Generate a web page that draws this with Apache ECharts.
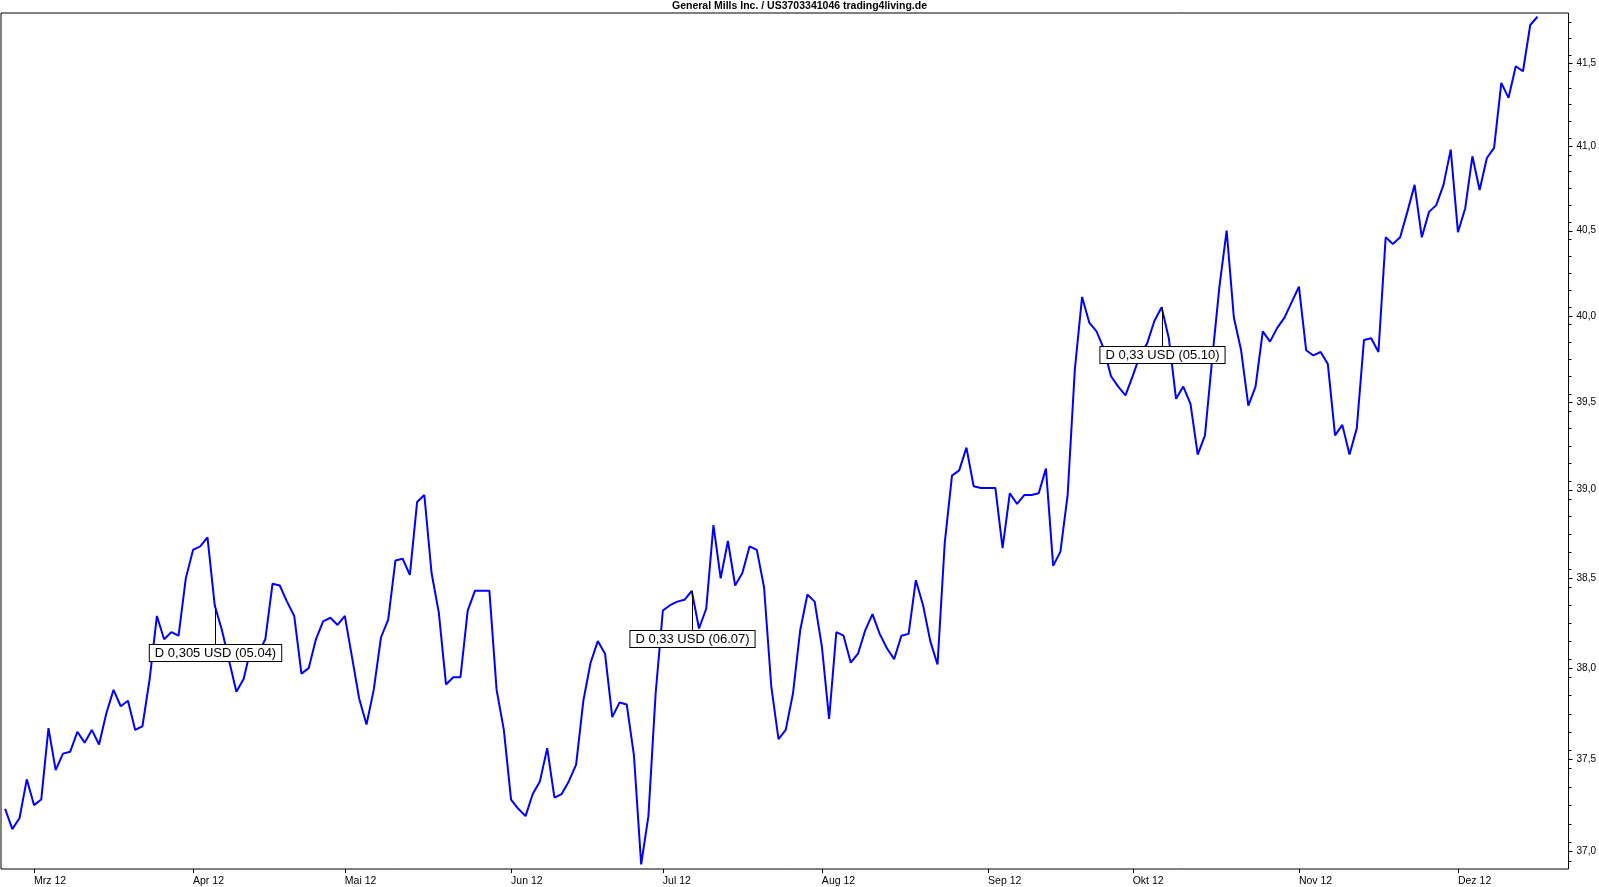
<!DOCTYPE html>
<html>
<head>
<meta charset="utf-8">
<script src="https://cdn.jsdelivr.net/npm/echarts@6/dist/echarts.min.js"></script>
<style>
html,body{margin:0;padding:0;background:#fff;}
#chart{width:1599px;height:887px;}
</style>
</head>
<body>
<div id="chart"></div>
<script>
// ---- data ----
const titleText = 'General Mills Inc. / US3703341046 trading4living.de';
const firstDate = '2012-02-24'; // first trading day shown (weekday axis)
const prices = [
  37.23,37.12,37.18,37.39,37.25,37.28,37.67,37.44,37.53,37.54,
  37.65,37.59,37.66,37.58,37.75,37.88,37.79,37.82,37.66,37.68,
  37.94,38.29,38.16,38.20,38.18,38.50,38.66,38.68,38.73,38.35,
  38.21,38.04,37.87,37.94,38.11,38.08,38.16,38.47,38.46,38.37,
  38.29,37.97,38.00,38.16,38.26,38.28,38.24,38.29,38.06,37.83,
  37.69,37.88,38.17,38.27,38.60,38.61,38.52,38.93,38.97,38.53,
  38.31,37.91,37.95,37.95,38.32,38.43,38.43,38.43,37.88,37.66,
  37.28,37.23,37.19,37.31,37.38,37.56,37.29,37.31,37.38,37.47,
  37.82,38.03,38.15,38.08,37.73,37.81,37.80,37.52,36.93,37.19,
  37.86,38.32,38.35,38.37,38.38,38.43,38.22,38.33,38.80,38.50,
  38.71,38.46,38.53,38.68,38.66,38.45,37.90,37.61,37.66,37.86,
  38.21,38.41,38.37,38.12,37.72,38.20,38.18,38.03,38.08,38.21,
  38.30,38.19,38.11,38.05,38.18,38.19,38.49,38.35,38.15,38.02,
  38.70,39.08,39.11,39.24,39.02,39.01,39.01,39.01,38.67,38.98,
  38.92,38.97,38.97,38.98,39.12,38.57,38.65,38.97,39.69,40.11,
  39.96,39.91,39.81,39.65,39.59,39.54,39.65,39.77,39.84,39.97,
  40.05,39.87,39.52,39.59,39.49,39.20,39.31,39.75,40.17,40.50,
  39.99,39.80,39.48,39.59,39.91,39.85,39.93,39.99,40.08,40.17,
  39.80,39.77,39.79,39.72,39.31,39.37,39.20,39.35,39.86,39.87,
  39.79,40.46,40.42,40.46,40.61,40.77,40.46,40.61,40.65,40.77,
  40.98,40.49,40.63,40.94,40.74,40.93,40.99,41.38,41.29,41.48,
  41.45,41.73,41.78
];
const monthLabels = ['Mrz 12','Apr 12','Mai 12','Jun 12','Jul 12','Aug 12','Sep 12','Okt 12','Nov 12','Dez 12'];
const yMajorTicks = [37.0,37.5,38.0,38.5,39.0,39.5,40.0,40.5,41.0,41.5];
const yMinorTicks = [36.95,37.05,37.15,37.25,37.35,37.45,37.55,37.65,37.75,37.85,37.95,
  38.05,38.15,38.25,38.35,38.45,38.55,38.65,38.75,38.85,38.95,
  39.05,39.15,39.25,39.35,39.45,39.55,39.65,39.75,39.85,39.95,
  40.05,40.15,40.25,40.35,40.45,40.55,40.65,40.75,40.85,40.95,
  41.05,41.15,41.25,41.35,41.45,41.55,41.65,41.75];
const divDates = ['2012-04-05','2012-07-06','2012-10-05'];
const divAmounts = ['0,305','0,33','0,33'];
const divLabelDates = ['05.04','06.07','05.10'];

// ---- axis extents ----
const X_MIN = -0.567, X_MAX = 216.3;
const Y_MIN = 36.905, Y_MAX = 41.803;

// ---- build weekday calendar ----
const dates = [];
(function(){
  const d = new Date(firstDate + 'T12:00:00Z');
  while (dates.length < prices.length) {
    const wd = d.getUTCDay();
    if (wd !== 0 && wd !== 6) dates.push(d.toISOString().slice(0,10));
    d.setUTCDate(d.getUTCDate() + 1);
  }
})();
const monthStarts = [];
for (let i = 1; i < dates.length; i++) {
  if (dates[i].slice(5,7) !== dates[i-1].slice(5,7)) monthStarts.push(i);
}
const monthLabelByIdx = {};
monthStarts.forEach((idx, k) => { monthLabelByIdx[idx] = monthLabels[k]; });

const lineData = prices.map((p, i) => [i, p]);
const divData = divDates.map((ds, k) => {
  const idx = dates.indexOf(ds);
  return [idx, prices[idx], 'D ' + divAmounts[k] + ' USD (' + divLabelDates[k] + ')'];
});
// tick marks: [x, y, kind (0 = y-axis tick, 1 = x-axis tick), length]
const tickData = []
  .concat(yMajorTicks.map(v => [X_MAX, v, 0, 4]))
  .concat(yMinorTicks.map(v => [X_MAX, v, 0, 3]))
  .concat(monthStarts.map(i => [i, Y_MIN, 1, 4]));

const FONT = '"Liberation Sans", Arial, sans-serif';
const chart = echarts.init(document.getElementById('chart'), null, {renderer: 'canvas'});
chart.setOption({
  animation: false,
  backgroundColor: '#fff',
  title: {
    text: titleText,
    left: 'center',
    top: 1,
    padding: 0,
    textStyle: {fontFamily: '"Liberation Sans Narrow", "Arial Narrow", "Liberation Sans", Arial, sans-serif', fontWeight: 'bold', fontSize: 10.5, color: '#000', lineHeight: 11}
  },
  grid: {left: 1, right: 29, top: 13, bottom: 18, show: true, borderColor: '#000', borderWidth: 1, backgroundColor: '#fff'},
  xAxis: {
    type: 'value',
    min: X_MIN,
    max: X_MAX,
    axisLine: {show: false},
    splitLine: {show: false},
    axisTick: {show: false},
    axisLabel: {
      show: true,
      customValues: monthStarts,
      formatter: v => monthLabelByIdx[Math.round(v)] || '',
      align: 'left',
      margin: 7,
      fontFamily: FONT,
      fontSize: 10.5,
      color: '#000'
    }
  },
  yAxis: {
    type: 'log',
    position: 'right',
    min: Y_MIN,
    max: Y_MAX,
    axisLine: {show: false},
    splitLine: {show: false},
    axisTick: {show: false},
    axisLabel: {
      show: true,
      customValues: yMajorTicks,
      formatter: v => Number(v).toFixed(1).replace('.', ','),
      margin: 8,
      fontFamily: FONT,
      fontSize: 10,
      color: '#000'
    }
  },
  series: [{
    type: 'line',
    data: lineData,
    showSymbol: false,
    symbol: 'none',
    lineStyle: {color: '#0000ff', width: 2},
    z: 2
  }, {
    type: 'custom',
    data: tickData,
    z: 3,
    clip: false,
    silent: true,
    encode: {x: 0, y: 1},
    renderItem: function (params, api) {
      const p = api.coord([api.value(0), api.value(1)]);
      const kind = api.value(2), len = api.value(3);
      if (kind === 0) {
        const y = Math.round(p[1]) + 0.5;
        return {type: 'line', shape: {x1: p[0], y1: y, x2: p[0] + len, y2: y}, style: {stroke: '#000', lineWidth: 1}};
      }
      const x = Math.round(p[0]) + 0.5;
      return {type: 'line', shape: {x1: x, y1: p[1], x2: x, y2: p[1] + len}, style: {stroke: '#000', lineWidth: 1}};
    }
  }, {
    type: 'custom',
    data: divData,
    z: 5,
    clip: false,
    encode: {x: 0, y: 1},
    renderItem: function (params, api) {
      const p = api.coord([api.value(0), api.value(1)]);
      const x = Math.round(p[0]) + 0.5;
      const boxTop = Math.round(p[1] + 40);
      return {
        type: 'group',
        children: [{
          type: 'line',
          shape: {x1: x, y1: p[1], x2: x, y2: boxTop},
          style: {stroke: '#000', lineWidth: 1}
        }, {
          type: 'text',
          x: x,
          y: boxTop,
          style: {
            text: divData[params.dataIndex][2],
            fill: '#000',
            font: '13px ' + FONT,
            align: 'center',
            verticalAlign: 'top',
            backgroundColor: '#fff',
            borderColor: '#000',
            borderWidth: 1,
            padding: [2, 5, 1, 5]
          }
        }]
      };
    }
  }]
});
</script>
</body>
</html>
